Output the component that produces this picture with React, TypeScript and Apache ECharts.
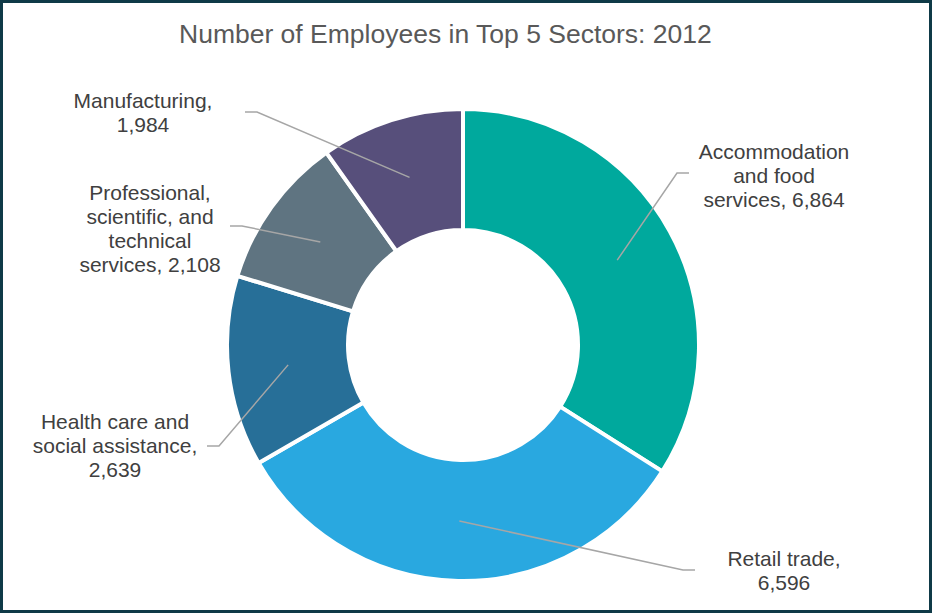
import React, { useEffect, useRef } from "react";
import * as echarts from "echarts";

const categories = [
  "Accommodation\nand food\nservices",
  "Retail trade",
  "Health care and\nsocial assistance",
  "Professional,\nscientific, and\ntechnical\nservices",
  "Manufacturing",
];
const employees = [6864, 6596, 2639, 2108, 1984];
const colors = ["#00A99D", "#29A8E0", "#276F98", "#5F7481", "#574F7B"];
const valueSeparators = [", ", ",\n", ",\n", ", ", ",\n"];

// label layout: label centre and leader-line end (px)
const labelCenters = [
  [774, 175],
  [784, 570],
  [115, 445],
  [150, 228],
  [143, 112],
];
const lineEnds = [
  [689, 173, 1],
  [695, 570, 1],
  [207, 446, -1],
  [230, 226, -1],
  [245, 112, -1],
];

const FONT = "'Liberation Sans', Arial, sans-serif";
const fmt = (v: number) => v.toLocaleString("en-US");

export default function App() {
  const ref = useRef<HTMLDivElement>(null);
  useEffect(() => {
    document.body.style.margin = "0";
    if (!ref.current) return;
    const chart = echarts.init(ref.current, undefined, { renderer: "svg" });
    const data = categories.map((name, i) => ({
      name,
      value: employees[i],
      itemStyle: { color: colors[i] },
    }));
    const labelData = categories.map((name, i) => ({
      name,
      value: employees[i],
    }));
    chart.setOption({
      animation: false,
      backgroundColor: "#ffffff",
      textStyle: { fontFamily: FONT },
      title: {
        text: "Number of Employees in Top 5 Sectors: 2012",
        left: 179,
        top: 17,
        padding: 0,
        textStyle: {
          fontFamily: FONT,
          fontSize: 26.5,
          lineHeight: 34,
          fontWeight: "normal",
          color: "#595959",
        },
      },
      graphic: [
        {
          type: "rect",
          shape: { x: 1.5, y: 1.5, width: 929, height: 610 },
          style: { fill: "none", stroke: "#0F3A47", lineWidth: 3 },
          z: 100,
        },
      ],
      series: [
        {
          type: "pie",
          center: [463, 345],
          radius: [115, 236],
          startAngle: 90,
          clockwise: true,
          avoidLabelOverlap: false,
          silent: true,
          label: { show: false },
          labelLine: { show: false },
          emphasis: { disabled: true },
          itemStyle: { borderColor: "#ffffff", borderWidth: 4 },
          data,
          z: 2,
        },
        {
          type: "pie",
          center: [463, 345],
          radius: [0, 176],
          startAngle: 90,
          clockwise: true,
          avoidLabelOverlap: false,
          silent: true,
          emphasis: { disabled: true },
          itemStyle: { color: "rgba(0,0,0,0)" },
          label: {
            show: true,
            position: "outside",
            formatter: (p: any) =>
              p.name + valueSeparators[p.dataIndex] + fmt(p.value),
            fontFamily: FONT,
            fontSize: 21,
            lineHeight: 24,
            color: "#404040",
            align: "center",
          },
          labelLine: {
            show: true,
            length: 10,
            length2: 10,
            lineStyle: { color: "#A6A6A6", width: 1.5 },
          },
          labelLayout: (p: any) => {
            const i = p.dataIndex;
            const [cx, cy] = labelCenters[i];
            const [ex, ey, dir] = lineEnds[i];
            const start = p.labelLinePoints ? p.labelLinePoints[0] : [ex, ey];
            return {
              x: cx,
              y: cy,
              align: "center",
              verticalAlign: "middle",
              labelLinePoints: [start, [ex - dir * 12, ey], [ex, ey]],
            };
          },
          data: labelData,
          z: 3,
        },
      ],
    });
    return () => chart.dispose();
  }, []);
  return <div ref={ref} style={{ width: 932, height: 613 }} />;
}
